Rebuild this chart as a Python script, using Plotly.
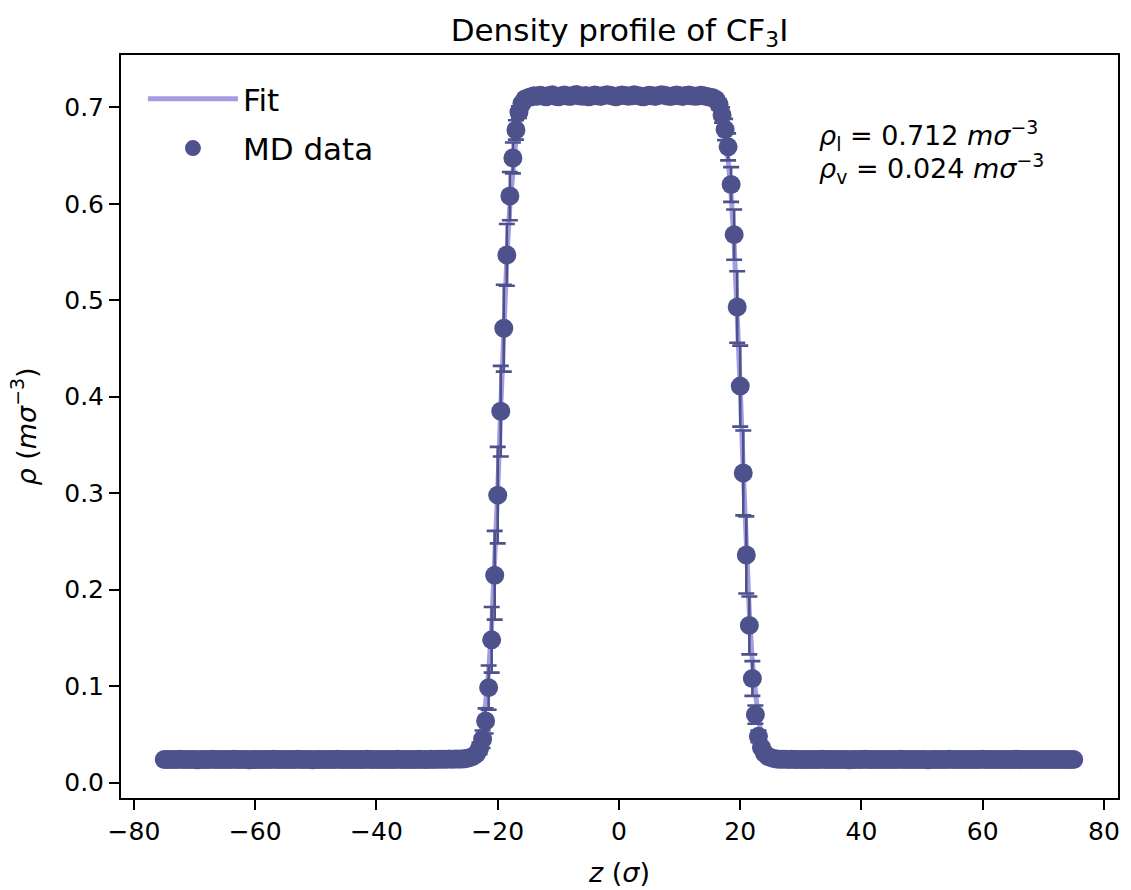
import plotly.graph_objects as go

# ---------------- data ----------------
z = [
    -75.0, -74.5, -74.0, -73.5, -73.0, -72.5, -72.0, -71.5, -71.0, -70.5,
    -70.0, -69.5, -69.0, -68.5, -68.0, -67.5, -67.0, -66.5, -66.0, -65.5,
    -65.0, -64.5, -64.0, -63.5, -63.0, -62.5, -62.0, -61.5, -61.0, -60.5,
    -60.0, -59.5, -59.0, -58.5, -58.0, -57.5, -57.0, -56.5, -56.0, -55.5,
    -55.0, -54.5, -54.0, -53.5, -53.0, -52.5, -52.0, -51.5, -51.0, -50.5,
    -50.0, -49.5, -49.0, -48.5, -48.0, -47.5, -47.0, -46.5, -46.0, -45.5,
    -45.0, -44.5, -44.0, -43.5, -43.0, -42.5, -42.0, -41.5, -41.0, -40.5,
    -40.0, -39.5, -39.0, -38.5, -38.0, -37.5, -37.0, -36.5, -36.0, -35.5,
    -35.0, -34.5, -34.0, -33.5, -33.0, -32.5, -32.0, -31.5, -31.0, -30.5,
    -30.0, -29.5, -29.0, -28.5, -28.0, -27.5, -27.0, -26.5, -26.0, -25.5,
    -25.0, -24.5, -24.0, -23.5, -23.0, -22.5, -22.0, -21.5, -21.0, -20.5,
    -20.0, -19.5, -19.0, -18.5, -18.0, -17.5, -17.0, -16.5, -16.0, -15.5,
    -15.0, -14.5, -14.0, -13.5, -13.0, -12.5, -12.0, -11.5, -11.0, -10.5,
    -10.0, -9.5, -9.0, -8.5, -8.0, -7.5, -7.0, -6.5, -6.0, -5.5,
    -5.0, -4.5, -4.0, -3.5, -3.0, -2.5, -2.0, -1.5, -1.0, -0.5,
    0.0, 0.5, 1.0, 1.5, 2.0, 2.5, 3.0, 3.5, 4.0, 4.5,
    5.0, 5.5, 6.0, 6.5, 7.0, 7.5, 8.0, 8.5, 9.0, 9.5,
    10.0, 10.5, 11.0, 11.5, 12.0, 12.5, 13.0, 13.5, 14.0, 14.5,
    15.0, 15.5, 16.0, 16.5, 17.0, 17.5, 18.0, 18.5, 19.0, 19.5,
    20.0, 20.5, 21.0, 21.5, 22.0, 22.5, 23.0, 23.5, 24.0, 24.5,
    25.0, 25.5, 26.0, 26.5, 27.0, 27.5, 28.0, 28.5, 29.0, 29.5,
    30.0, 30.5, 31.0, 31.5, 32.0, 32.5, 33.0, 33.5, 34.0, 34.5,
    35.0, 35.5, 36.0, 36.5, 37.0, 37.5, 38.0, 38.5, 39.0, 39.5,
    40.0, 40.5, 41.0, 41.5, 42.0, 42.5, 43.0, 43.5, 44.0, 44.5,
    45.0, 45.5, 46.0, 46.5, 47.0, 47.5, 48.0, 48.5, 49.0, 49.5,
    50.0, 50.5, 51.0, 51.5, 52.0, 52.5, 53.0, 53.5, 54.0, 54.5,
    55.0, 55.5, 56.0, 56.5, 57.0, 57.5, 58.0, 58.5, 59.0, 59.5,
    60.0, 60.5, 61.0, 61.5, 62.0, 62.5, 63.0, 63.5, 64.0, 64.5,
    65.0, 65.5, 66.0, 66.5, 67.0, 67.5, 68.0, 68.5, 69.0, 69.5,
    70.0, 70.5, 71.0, 71.5, 72.0, 72.5, 73.0, 73.5, 74.0, 74.5,
    75.0,
]

# density, segment by segment (left vapour, left interface, liquid, right interface, right vapour)
rho_vapour_left = [
    0.0241, 0.0240, 0.0239, 0.0241, 0.0240, 0.0242, 0.0239, 0.0240, 0.0241, 0.0239,
    0.0240, 0.0238, 0.0241, 0.0240, 0.0239, 0.0241, 0.0242, 0.0240, 0.0239, 0.0240,
    0.0241, 0.0239, 0.0240, 0.0242, 0.0240, 0.0239, 0.0241, 0.0240, 0.0238, 0.0240,
    0.0241, 0.0240, 0.0239, 0.0241, 0.0240, 0.0239, 0.0242, 0.0240, 0.0241, 0.0239,
    0.0240, 0.0241, 0.0239, 0.0240, 0.0242, 0.0240, 0.0239, 0.0241, 0.0240, 0.0238,
    0.0240, 0.0241, 0.0239, 0.0240, 0.0241, 0.0240, 0.0239, 0.0242, 0.0240, 0.0241,
    0.0239, 0.0240, 0.0241, 0.0240, 0.0239, 0.0241, 0.0240, 0.0242, 0.0239, 0.0240,
    0.0241, 0.0240, 0.0239, 0.0240, 0.0241, 0.0239, 0.0240, 0.0242, 0.0241, 0.0240,
    0.0239, 0.0241, 0.0240, 0.0240, 0.0242, 0.0241, 0.0240, 0.0241, 0.0242, 0.0241,
    0.0242, 0.0243, 0.0242, 0.0243, 0.0244, 0.0243, 0.0244, 0.0245, 0.0246,
]
rho_interface_left = [
    0.0248, 0.0252, 0.0262, 0.0275, 0.0300, 0.0355, 0.0450, 0.0640, 0.0985, 0.1480,
    0.2150, 0.2980, 0.3850, 0.4710, 0.5470, 0.6080, 0.6475, 0.6765, 0.6950, 0.7040,
    0.7085,
]
rho_liquid = [
    0.7100, 0.7110, 0.7120, 0.7115, 0.7125, 0.7118, 0.7110, 0.7122, 0.7130, 0.7115,
    0.7108, 0.7120, 0.7127, 0.7118, 0.7112, 0.7125, 0.7132, 0.7120, 0.7115, 0.7122,
    0.7110, 0.7118, 0.7128, 0.7120, 0.7113, 0.7121, 0.7130, 0.7124, 0.7116, 0.7110,
    0.7119, 0.7127, 0.7121, 0.7114, 0.7120, 0.7129, 0.7123, 0.7115, 0.7109, 0.7118,
    0.7126, 0.7120, 0.7113, 0.7122, 0.7131, 0.7124, 0.7116, 0.7111, 0.7120, 0.7127,
    0.7119, 0.7112, 0.7121, 0.7128, 0.7120, 0.7114, 0.7118, 0.7125, 0.7119, 0.7112,
    0.7105, 0.7098,
]
rho_interface_right = [
    0.7080, 0.7030, 0.6920, 0.6770, 0.6590, 0.6200, 0.5680, 0.4930, 0.4110, 0.3210,
    0.2360, 0.1630, 0.1080, 0.0705, 0.0480, 0.0365, 0.0305, 0.0275, 0.0260, 0.0250,
    0.0245,
]
rho_vapour_right = [
    0.0243, 0.0242, 0.0243, 0.0241, 0.0242, 0.0240, 0.0241, 0.0240, 0.0239, 0.0241,
    0.0240, 0.0239, 0.0241, 0.0240, 0.0242, 0.0240, 0.0239, 0.0240, 0.0241, 0.0239,
    0.0240, 0.0241, 0.0240, 0.0238, 0.0240, 0.0241, 0.0239, 0.0240, 0.0242, 0.0240,
    0.0239, 0.0241, 0.0240, 0.0239, 0.0240, 0.0241, 0.0240, 0.0239, 0.0241, 0.0240,
    0.0242, 0.0240, 0.0239, 0.0240, 0.0241, 0.0239, 0.0240, 0.0241, 0.0240, 0.0238,
    0.0240, 0.0241, 0.0240, 0.0239, 0.0241, 0.0240, 0.0242, 0.0239, 0.0240, 0.0241,
    0.0240, 0.0239, 0.0240, 0.0241, 0.0240, 0.0239, 0.0241, 0.0242, 0.0240, 0.0239,
    0.0240, 0.0241, 0.0239, 0.0240, 0.0241, 0.0240, 0.0239, 0.0240, 0.0242, 0.0241,
    0.0240, 0.0239, 0.0241, 0.0240, 0.0239, 0.0240, 0.0241, 0.0240, 0.0239, 0.0241,
    0.0240, 0.0239, 0.0240, 0.0241, 0.0240, 0.0239, 0.0240, 0.0241,
]

err_vapour_left = [
    0.0012, 0.0011, 0.0012, 0.0013, 0.0012, 0.0011, 0.0012, 0.0012, 0.0013, 0.0011,
    0.0012, 0.0012, 0.0011, 0.0012, 0.0013, 0.0012, 0.0011, 0.0012, 0.0012, 0.0013,
    0.0012, 0.0011, 0.0012, 0.0012, 0.0013, 0.0012, 0.0011, 0.0012, 0.0012, 0.0011,
    0.0012, 0.0013, 0.0012, 0.0011, 0.0012, 0.0012, 0.0013, 0.0012, 0.0011, 0.0012,
    0.0012, 0.0011, 0.0013, 0.0012, 0.0012, 0.0011, 0.0012, 0.0013, 0.0012, 0.0012,
    0.0011, 0.0012, 0.0012, 0.0013, 0.0012, 0.0011, 0.0012, 0.0012, 0.0013, 0.0012,
    0.0012, 0.0011, 0.0012, 0.0013, 0.0012, 0.0012, 0.0011, 0.0012, 0.0013, 0.0012,
    0.0012, 0.0013, 0.0012, 0.0011, 0.0012, 0.0012, 0.0013, 0.0012, 0.0012, 0.0013,
    0.0012, 0.0013, 0.0013, 0.0012, 0.0013, 0.0014, 0.0013, 0.0014, 0.0014, 0.0015,
    0.0015, 0.0016, 0.0016, 0.0017, 0.0017, 0.0018, 0.0018, 0.0019, 0.0020,
]
err_interface_left = [
    0.0020, 0.0022, 0.0028, 0.0032, 0.0042, 0.0060, 0.0090, 0.0130, 0.0230, 0.0340,
    0.0460, 0.0500, 0.0470, 0.0450, 0.0320, 0.0250, 0.0160, 0.0100, 0.0060, 0.0040,
    0.0030,
]
err_liquid = [
    0.0030, 0.0028, 0.0027, 0.0026, 0.0027, 0.0025, 0.0026, 0.0027, 0.0025, 0.0026,
    0.0025, 0.0027, 0.0026, 0.0025, 0.0026, 0.0027, 0.0025, 0.0026, 0.0025, 0.0027,
    0.0026, 0.0025, 0.0026, 0.0027, 0.0025, 0.0026, 0.0025, 0.0027, 0.0026, 0.0025,
    0.0026, 0.0027, 0.0025, 0.0026, 0.0025, 0.0027, 0.0026, 0.0025, 0.0026, 0.0027,
    0.0025, 0.0026, 0.0025, 0.0027, 0.0026, 0.0025, 0.0026, 0.0027, 0.0025, 0.0026,
    0.0025, 0.0027, 0.0026, 0.0025, 0.0026, 0.0027, 0.0026, 0.0025, 0.0026, 0.0027,
    0.0028, 0.0030,
]
err_interface_right = [
    0.0035, 0.0050, 0.0080, 0.0110, 0.0140, 0.0180, 0.0260, 0.0370, 0.0420, 0.0440,
    0.0400, 0.0300, 0.0180, 0.0095, 0.0060, 0.0040, 0.0030, 0.0025, 0.0022, 0.0020,
    0.0019,
]
err_vapour_right = [
    0.0018, 0.0017, 0.0017, 0.0016, 0.0016, 0.0015, 0.0015, 0.0014, 0.0014, 0.0013,
    0.0013, 0.0012, 0.0013, 0.0012, 0.0012, 0.0011, 0.0012, 0.0013, 0.0012, 0.0012,
    0.0011, 0.0012, 0.0012, 0.0013, 0.0012, 0.0011, 0.0012, 0.0012, 0.0013, 0.0012,
    0.0012, 0.0011, 0.0012, 0.0013, 0.0012, 0.0012, 0.0011, 0.0012, 0.0012, 0.0013,
    0.0012, 0.0011, 0.0012, 0.0012, 0.0013, 0.0012, 0.0012, 0.0011, 0.0012, 0.0012,
    0.0013, 0.0012, 0.0011, 0.0012, 0.0012, 0.0013, 0.0012, 0.0012, 0.0011, 0.0012,
    0.0012, 0.0013, 0.0012, 0.0011, 0.0012, 0.0012, 0.0013, 0.0012, 0.0012, 0.0011,
    0.0012, 0.0012, 0.0013, 0.0012, 0.0011, 0.0012, 0.0012, 0.0013, 0.0012, 0.0012,
    0.0011, 0.0012, 0.0012, 0.0013, 0.0012, 0.0011, 0.0012, 0.0012, 0.0013, 0.0012,
    0.0012, 0.0011, 0.0012, 0.0012, 0.0013, 0.0012, 0.0011, 0.0012,
]

rho_md = rho_vapour_left + rho_interface_left + rho_liquid + rho_interface_right + rho_vapour_right
err_md = err_vapour_left + err_interface_left + err_liquid + err_interface_right + err_vapour_right

# fitted profile (sampled where it bends; flat elsewhere)
z_fit = [
    -75.0, -28.0, -27.0, -26.0, -25.5, -25.0, -24.5, -24.0, -23.5, -23.0,
    -22.5, -22.0, -21.5, -21.0, -20.5, -20.0, -19.5, -19.0, -18.5, -18.0,
    -17.5, -17.0, -16.5, -16.0, -15.5, -15.0, -14.5, -14.0, -13.0, -12.0,
    12.0, 13.0, 14.0, 14.5, 15.0, 15.5, 16.0, 16.5, 17.0, 17.5,
    18.0, 18.5, 19.0, 19.5, 20.0, 20.5, 21.0, 21.5, 22.0, 22.5,
    23.0, 23.5, 24.0, 24.5, 25.0, 25.5, 26.0, 26.5, 27.0, 28.0,
    75.0,
]
rho_fit = [
    0.0240, 0.0241, 0.0244, 0.0252, 0.0259, 0.0271, 0.0292, 0.0325, 0.0380, 0.0467,
    0.0606, 0.0823, 0.1151, 0.1623, 0.2257, 0.3034, 0.3886, 0.4713, 0.5428, 0.5983,
    0.6383, 0.6653, 0.6829, 0.6940, 0.7011, 0.7053, 0.7079, 0.7095, 0.7111, 0.7117,
    0.7117, 0.7115, 0.7107, 0.7098, 0.7084, 0.7060, 0.7022, 0.6960, 0.6860, 0.6703,
    0.6458, 0.6093, 0.5576, 0.4898, 0.4091, 0.3235, 0.2432, 0.1760, 0.1250, 0.0890,
    0.0650, 0.0495, 0.0397, 0.0336, 0.0298, 0.0276, 0.0262, 0.0253, 0.0248, 0.0243,
    0.0240,
]

x_ticks = [-80, -60, -40, -20, 0, 20, 40, 60, 80]
y_ticks = [0.0, 0.1, 0.2, 0.3, 0.4, 0.5, 0.6, 0.7]
rho_l_text = "<i>ρ</i><sub>l</sub> = 0.712 <i>mσ</i><sup>−3</sup>"
rho_v_text = "<i>ρ</i><sub>v</sub> = 0.024 <i>mσ</i><sup>−3</sup>"

# ---------------- styling ----------------
FONT = "DejaVu Sans"
DARK = "#4e528c"
LIGHT = "#a49de2"

fig = go.Figure()
fig.add_trace(go.Scatter(
    x=z_fit, y=rho_fit, mode="lines", name="Fit",
    line=dict(color=LIGHT, width=5), legendgroup="a",
))
fig.add_trace(go.Scatter(
    x=z, y=rho_md, mode="markers", name="MD data",
    marker=dict(color=DARK, size=19, line=dict(width=0)),
    error_y=dict(type="data", array=err_md, visible=True, color=DARK, thickness=2.6, width=8),
    legendgroup="b",
))

axis_common = dict(
    showline=True, linecolor="black", linewidth=2, mirror=True,
    ticks="outside", ticklen=10, tickwidth=2, tickcolor="black",
    showgrid=False, zeroline=False, automargin=False,
    tickfont=dict(family=FONT, size=25, color="black"),
)

fig.update_layout(
    width=1131, height=890,
    margin=dict(l=121, r=13, t=55, b=92, pad=0, autoexpand=False),
    paper_bgcolor="white", plot_bgcolor="white",
    font=dict(family=FONT, color="black"),
    title=dict(
        text="Density profile of CF<sub>3</sub>I",
        x=0.5, xref="paper", xanchor="center",
        y=1 - 30 / 890, yref="container", yanchor="middle",
        font=dict(family=FONT, size=31, color="black"),
    ),
    xaxis=dict(
        range=[-82.14, 82.31], tickvals=x_ticks,
        title=dict(text="<i>z</i> (<i>σ</i>)", font=dict(family=FONT, size=27), standoff=18),
        **axis_common,
    ),
    yaxis=dict(
        range=[-0.0159, 0.7542], tickvals=y_ticks, tickformat=".1f",
        title=dict(text="<i>ρ</i> (<i>mσ</i><sup>−3</sup>)", font=dict(family=FONT, size=27), standoff=20),
        **axis_common,
    ),
    legend=dict(
        x=0.022, y=0.977, xanchor="left", yanchor="top",
        bgcolor="rgba(255,255,255,0)", borderwidth=0,
        font=dict(family=FONT, size=31, color="black"),
        traceorder="grouped", tracegroupgap=6, itemwidth=90,
    ),
    annotations=[
        dict(text=rho_l_text, xref="paper", yref="paper", x=0.698, y=0.891,
             xanchor="left", yanchor="middle", showarrow=False,
             font=dict(family=FONT, size=27, color="black")),
        dict(text=rho_v_text, xref="paper", yref="paper", x=0.698, y=0.8466,
             xanchor="left", yanchor="middle", showarrow=False,
             font=dict(family=FONT, size=27, color="black")),
    ],
)

fig.write_html("out.html")
